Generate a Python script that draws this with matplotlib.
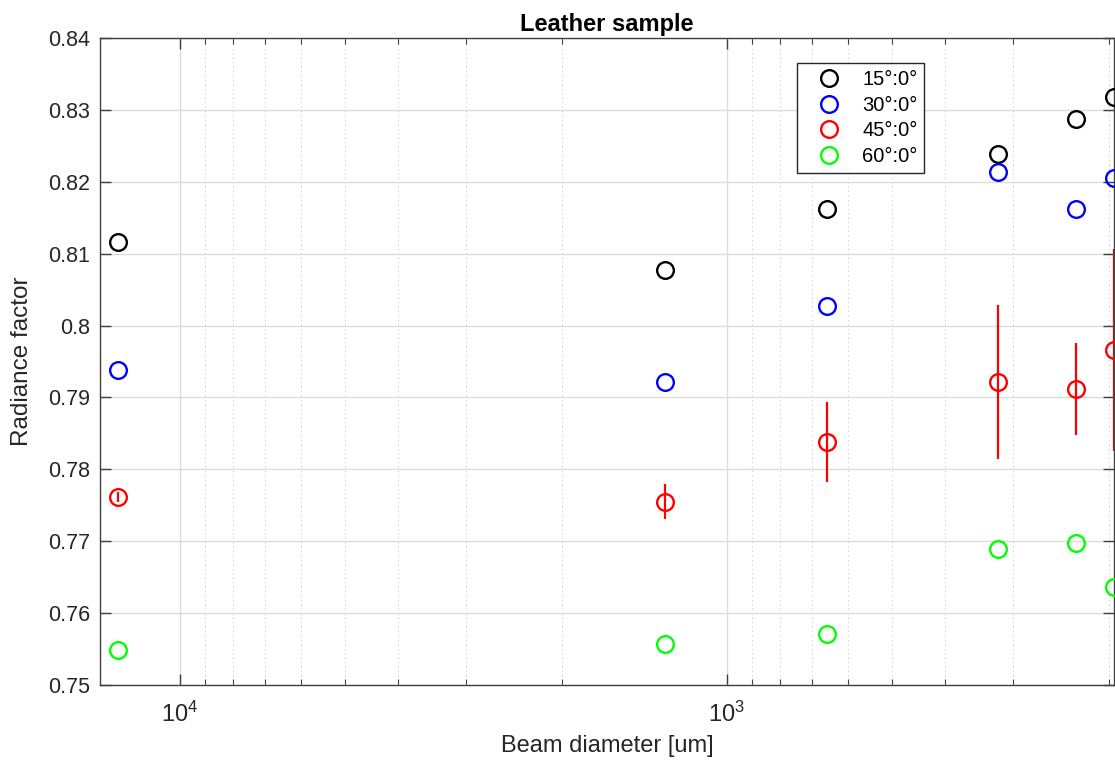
import numpy as np
import matplotlib
matplotlib.use("Agg")
import matplotlib.pyplot as plt
from matplotlib.ticker import FormatStrFormatter, NullFormatter, LogLocator

plt.rcParams['font.family'] = ['Liberation Sans', 'DejaVu Sans']
plt.rcParams['mathtext.fontset'] = 'custom'
plt.rcParams['mathtext.rm'] = 'Liberation Sans'

# beam diameters [um]
diametro = [13000, 1300, 655, 320, 230, 196]

r15 = [0.8116, 0.8077, 0.8162, 0.8238, 0.8287, 0.8318]
r30 = [0.7938, 0.7921, 0.8027, 0.8213, 0.8162, 0.8205]
r45 = [0.7762, 0.7755, 0.7838, 0.7921, 0.7912, 0.7966]
r45_err = [0.0007, 0.0024, 0.0055, 0.0107, 0.0064, 0.0141]
r60 = [0.7549, 0.7557, 0.7571, 0.7689, 0.7698, 0.7637]

series = [('15°:0°', r15, 'black'), ('30°:0°', r30, 'blue'),
          ('45°:0°', r45, 'red'), ('60°:0°', r60, (0, 1, 0))]

fig = plt.figure(figsize=(11.15, 7.63), dpi=100)
ax = fig.add_axes([100/1115, 78/763, 1014/1115, 647/763])

txt = '#262626'
ax.errorbar(diametro, r45, yerr=r45_err, fmt='none', ecolor='red',
            elinewidth=1.6, capsize=0, zorder=2)
for nome, vals, cor in series:
    ax.plot(diametro, vals, 'o', mfc='none', mec=cor, ms=12, mew=1.7,
            label=nome, zorder=3)

ax.set_xscale('log')
ax.set_xlim(14000, 196)
ax.set_ylim(0.75, 0.84)
ax.set_yticks(np.arange(0.75, 0.8401, 0.01))
ax.yaxis.set_major_formatter(FormatStrFormatter('%g'))
ax.xaxis.set_minor_locator(LogLocator(base=10, subs=np.arange(2, 10), numticks=20))
ax.xaxis.set_minor_formatter(NullFormatter())

ax.grid(True, which='major', color='#dcdcdc', linewidth=1, linestyle='-')
ax.grid(True, which='minor', axis='x', color='#c8c8c8', linewidth=0.8, linestyle=(0, (1, 3)))
ax.set_axisbelow(True)

ax.tick_params(which='both', direction='in', top=True, right=True, colors='#404040',
               labelcolor=txt, labelsize=15.5)
ax.tick_params(which='major', length=8, width=1)
ax.tick_params(which='minor', length=4.5, width=0.8)
ax.tick_params(axis='y', pad=7)
ax.tick_params(axis='x', pad=12, labelsize=17)
for s in ax.spines.values():
    s.set_color('#404040')
    s.set_linewidth(1)

ax.set_xlabel('Beam diameter [um]', fontsize=17, color=txt, labelpad=6)
ax.set_ylabel('Radiance factor', fontsize=17.5, color=txt, labelpad=11)
ax.set_title('Leather sample', fontsize=17, fontweight='bold', color='black', pad=5)

leg = ax.legend(loc='upper left', bbox_to_anchor=(0.687, 0.961), borderaxespad=0,
                fontsize=14.5, numpoints=1, handlelength=2.5, handletextpad=0.4,
                borderpad=0.35, labelspacing=0.32, fancybox=False, framealpha=1,
                edgecolor='#262626')
leg.get_frame().set_linewidth(1)

fig.savefig('out.png', dpi=100)
